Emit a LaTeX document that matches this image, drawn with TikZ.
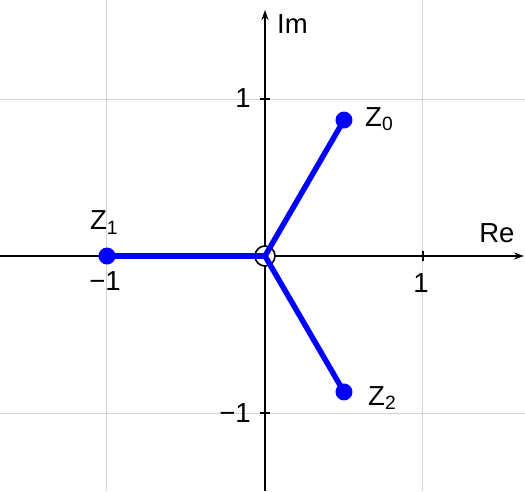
\documentclass[tikz,border=0pt]{standalone}
\usepackage{fontspec}
\setmainfont{Liberation Sans}
\usetikzlibrary{arrows.meta}
\begin{document}
\begin{tikzpicture}[x=158pt,y=157pt,
  lbl/.style={font=\fontsize{27.5}{30}\selectfont, inner sep=0pt},
  gridline/.style={draw=black!17, line width=1pt},
  axisline/.style={line width=2pt, -{Stealth[length=10pt,width=7pt]}},
  tick/.style={line width=2pt},
  seg/.style={blue, line width=5.5pt},
  dotp/.style={circle, fill=blue, inner sep=0pt, minimum size=17pt}]
\useasboundingbox (-1.6772,-1.4968) rectangle (1.6456,1.6306);
% grid
\draw[gridline] (-1,-1.4968) -- (-1,1.6306);
\draw[gridline] (1,-1.4968) -- (1,1.6306);
\draw[gridline] (-1.6772,1) -- (1.6456,1);
\draw[gridline] (-1.6772,-1) -- (1.6456,-1);
% axes
\coordinate (xl) at (-1.6772,0);
\coordinate (xr) at (1.639,0);
\coordinate (yb) at (0,-1.4968);
\coordinate (yt) at (0,1.567);
\draw[axisline] (xl) -- (xr);
\draw[axisline] (yb) -- (yt);
% ticks
\draw[tick] (1,0) +(0,-5pt) -- +(0,5pt);
\draw[tick] (-1,0) +(0,-5pt) -- +(0,5pt);
\draw[tick] (0,1) +(-5pt,0) -- +(5pt,0);
\draw[tick] (0,-1) +(-5pt,0) -- +(5pt,0);
% tick labels
\node[lbl, anchor=base] (tx1) at (0.987,-0.232) {1};
\node[lbl, anchor=base] (txm1) at (-1.013,-0.22) {−1};
\node[lbl, anchor=base] (ty1) at (-0.139,0.946) {1};
\node[lbl, anchor=base] (tym1) at (-0.19,-1.06) {−1};
\node[lbl, anchor=base west] (im) at (0.076,1.42) {Im};
\node[lbl, anchor=base west] (re) at (1.355,0.089) {Re};
% origin
\node[circle, draw=black, fill=white, line width=1.6pt, minimum size=20pt, inner sep=0pt] (O) at (0,0) {};
% points
\coordinate (z0) at (0.5,0.866);
\coordinate (z1) at (-1,0);
\coordinate (z2) at (0.5,-0.866);
\draw[seg] (O.center) -- (z0);
\draw[seg] (O.center) -- (z1);
\draw[seg] (O.center) -- (z2);
\node[dotp] (Z0) at (z0) {};
\node[dotp] (Z1) at (z1) {};
\node[dotp] (Z2) at (z2) {};
\node[lbl, anchor=base west] (l0) at (0.633,0.828) {Z\textsubscript{0}};
\node[lbl, anchor=base west] (l1) at (-1.108,0.166) {Z\textsubscript{1}};
\node[lbl, anchor=base west] (l2) at (0.652,-0.949) {Z\textsubscript{2}};
\end{tikzpicture}
\end{document}
